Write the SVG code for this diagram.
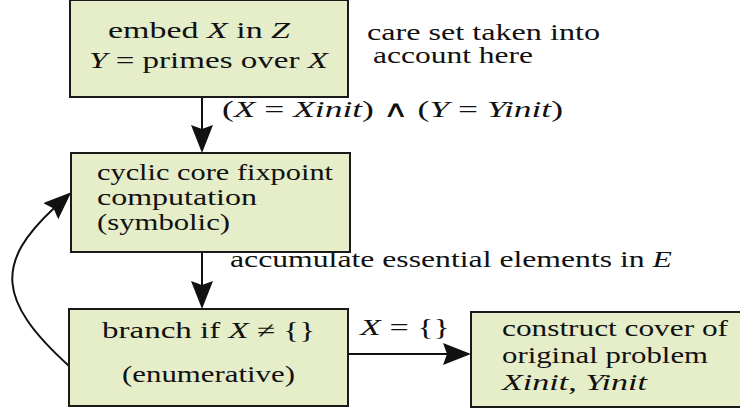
<svg xmlns="http://www.w3.org/2000/svg" width="740" height="412" viewBox="0 0 740 412">
<style>
.box{fill:#e5edc9;stroke:#1a1a1a;stroke-width:2}
text{font-family:"Liberation Serif","DejaVu Serif",serif;font-size:23px;fill:#111}
.i{font-style:italic}
.c{fill:none;stroke:#111;stroke-width:2}
</style>
<defs>
<marker id="ah" viewBox="0 0 28 22" markerWidth="28" markerHeight="22" refX="5" refY="11" orient="auto" markerUnits="userSpaceOnUse">
<path d="M0,0 L28,11 L0,22 L4,11 z" fill="#111"/>
</marker>
</defs>
<g id="connectors">
<path class="c" d="M202,97 L202,130" marker-end="url(#ah)"/>
<path class="c" d="M202,252 L202,286" marker-end="url(#ah)"/>
<path class="c" d="M348,354 L448,354" marker-end="url(#ah)"/>
<path class="c" d="M69,366 C-4,300 -4,262 54.4,207.8" marker-end="url(#ah)"/>
<text x="222" y="117" textLength="341" lengthAdjust="spacingAndGlyphs">(<tspan class="i">X</tspan> = <tspan class="i">Xinit</tspan>) ∧ (<tspan class="i">Y</tspan> = <tspan class="i">Yinit</tspan>)</text>
<text x="230" y="267" textLength="442" lengthAdjust="spacingAndGlyphs">accumulate essential elements in <tspan class="i">E</tspan></text>
<text x="360" y="335" textLength="90" lengthAdjust="spacingAndGlyphs"><tspan class="i">X</tspan> = {}</text>
</g>
<g id="embed">
<rect class="box" x="70" y="0" width="278" height="97"/>
<text x="108" y="38" textLength="182" lengthAdjust="spacingAndGlyphs">embed <tspan class="i">X</tspan> in <tspan class="i">Z</tspan></text>
<text x="89" y="68" textLength="239" lengthAdjust="spacingAndGlyphs"><tspan class="i">Y</tspan> = primes over <tspan class="i">X</tspan></text>
</g>
<g id="note">
<text x="367" y="40" textLength="233" lengthAdjust="spacingAndGlyphs">care set taken into</text>
<text x="373" y="63" textLength="160" lengthAdjust="spacingAndGlyphs">account here</text>
</g>
<g id="cyclic">
<rect class="box" x="71" y="153" width="279" height="99"/>
<text x="97" y="180" textLength="236" lengthAdjust="spacingAndGlyphs">cyclic core fixpoint</text>
<text x="97" y="205" textLength="160" lengthAdjust="spacingAndGlyphs">computation</text>
<text x="97" y="230" textLength="133" lengthAdjust="spacingAndGlyphs">(symbolic)</text>
</g>
<g id="branch">
<rect class="box" x="69" y="309" width="279" height="97"/>
<text x="102" y="338" textLength="213" lengthAdjust="spacingAndGlyphs">branch if <tspan class="i">X</tspan> ≠ {}</text>
<text x="122" y="382" textLength="173" lengthAdjust="spacingAndGlyphs">(enumerative)</text>
</g>
<g id="construct">
<rect class="box" x="471" y="312" width="275" height="95"/>
<text x="502" y="336" textLength="226" lengthAdjust="spacingAndGlyphs">construct cover of</text>
<text x="502" y="363" textLength="206" lengthAdjust="spacingAndGlyphs">original problem</text>
<text x="502" y="390" textLength="145" lengthAdjust="spacingAndGlyphs"><tspan class="i">Xinit</tspan>, <tspan class="i">Yinit</tspan></text>
</g>
</svg>
